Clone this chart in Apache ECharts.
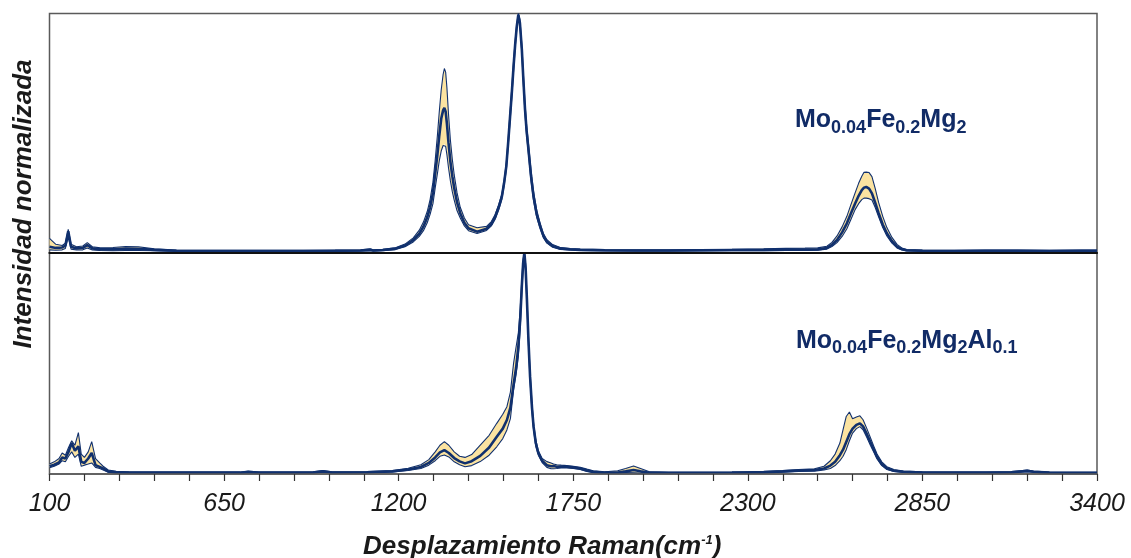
<!DOCTYPE html>
<html>
<head>
<meta charset="utf-8">
<script src="https://cdn.jsdelivr.net/npm/echarts@6/dist/echarts.min.js"></script>
<style>
  html, body { margin: 0; padding: 0; background: #fff; }
  #chart { width: 1131px; height: 558px; }
</style>
</head>
<body>
<div id="chart"></div>
<script>
// Raman shift axis (cm-1)
const shiftMin = 100;
const shiftMax = 3400;
const shiftStep = 550;

// Mo0.04Fe0.2Mg2 : Raman shift, min / mean / max of normalised intensity
const topShift = [
  100, 120, 140, 150, 159, 168, 185, 205, 219, 235,
  260, 300, 340, 380, 430, 500, 600, 700, 800, 900,
  1000, 1080, 1110, 1120, 1150, 1190, 1220, 1246, 1265, 1278,
  1290, 1299, 1308, 1315, 1322, 1328, 1334, 1340, 1344, 1348,
  1352, 1357, 1363, 1369, 1375, 1384, 1394, 1407, 1420, 1447,
  1477, 1492, 1504, 1515, 1525, 1532, 1539, 1545, 1551, 1557,
  1562, 1567, 1572, 1577, 1582, 1588, 1593, 1598, 1603, 1609,
  1617, 1625, 1635, 1646, 1656, 1667, 1685, 1709, 1740, 1772,
  1850, 1950, 2050, 2150, 2250, 2350, 2420, 2480, 2520, 2549,
  2565, 2581, 2597, 2612, 2625, 2638, 2649, 2659, 2666, 2673,
  2682, 2691, 2701, 2712, 2725, 2738, 2754, 2770, 2785, 2800,
  2850, 2950, 3050, 3150, 3250, 3350, 3400
];
const topMean = [
  .025, .02, .022, .03, .09, .025, .018, .02, .032, .018,
  .014, .014, .017, .016, .012, .008, .007, .007, .007, .007,
  .008, .009, .012, .009, .011, .017, .03, .053, .08, .109,
  .148, .19, .25, .33, .41, .49, .56, .595, .605, .59,
  .54, .46, .38, .32, .27, .21, .165, .125, .102, .088,
  .1, .12, .15, .19, .234, .29, .36, .46, .57, .68,
  .78, .87, .945, .995, .96, .85, .72, .6, .51, .43,
  .32, .234, .16, .109, .07, .046, .028, .018, .014, .012,
  .01, .009, .009, .01, .011, .012, .013, .013, .014, .02,
  .033, .053, .085, .123, .165, .206, .238, .262, .272, .275,
  .268, .248, .21, .165, .118, .081, .048, .025, .015, .01,
  .008, .007, .008, .008, .007, .008, .008
];
const topHigh = [
  .06, .035, .03, .04, .098, .035, .025, .028, .042, .025,
  .02, .022, .026, .025, .016, .011, .01, .01, .01, .01,
  .011, .012, .016, .012, .014, .021, .036, .062, .094, .128,
  .172, .222, .295, .385, .49, .59, .68, .745, .77, .755,
  .69, .58, .47, .39, .325, .25, .19, .145, .117, .104,
  .11, .13, .16, .2, .245, .3, .375, .475, .59, .7,
  .8, .885, .955, 1.0, .975, .87, .745, .625, .535, .455,
  .345, .255, .178, .122, .08, .054, .034, .022, .017, .015,
  .013, .012, .012, .013, .014, .016, .018, .019, .02, .027,
  .043, .07, .108, .152, .202, .25, .29, .32, .336, .337,
  .335, .318, .27, .21, .152, .105, .064, .035, .02, .013,
  .011, .01, .011, .011, .01, .011, .011
];
const topLow = [
  .012, .01, .012, .018, .065, .015, .011, .012, .02, .011,
  .009, .008, .009, .009, .008, .005, .004, .004, .004, .004,
  .005, .006, .008, .006, .008, .013, .025, .045, .068, .092,
  .125, .16, .205, .27, .33, .385, .425, .448, .454, .445,
  .41, .355, .3, .255, .22, .175, .145, .112, .092, .08,
  .093, .112, .14, .178, .222, .278, .345, .445, .55, .66,
  .76, .855, .935, .99, .95, .835, .7, .58, .49, .41,
  .3, .218, .148, .1, .063, .04, .023, .014, .011, .009,
  .007, .006, .006, .007, .008, .008, .009, .009, .01, .015,
  .026, .042, .068, .1, .14, .18, .205, .222, .228, .228,
  .226, .22, .19, .15, .105, .07, .04, .02, .011, .007,
  .005, .005, .005, .005, .005, .005, .005
];

// Mo0.04Fe0.2Mg2Al0.1 : Raman shift, min / mean / max of normalised intensity
const bottomShift = [
  100, 115, 130, 140, 150, 160, 170, 180, 191, 200,
  210, 222, 233, 245, 258, 269, 285, 310, 350, 400,
  500, 600, 700, 726, 760, 850, 930, 961, 990, 1100,
  1180, 1230, 1270, 1295, 1315, 1330, 1344, 1358, 1375, 1392,
  1409, 1430, 1457, 1485, 1509, 1528, 1541, 1552, 1562, 1570,
  1577, 1583, 1588, 1592, 1596, 1600, 1604, 1609, 1614, 1620,
  1625, 1632, 1640, 1652, 1667, 1680, 1688, 1698, 1712, 1730,
  1750, 1772, 1793, 1813, 1850, 1890, 1915, 1940, 1962, 1990,
  2050, 2150, 2250, 2350, 2410, 2460, 2510, 2540, 2560, 2575,
  2590, 2600, 2610, 2620, 2630, 2642, 2653, 2663, 2675, 2686,
  2697, 2707, 2722, 2738, 2760, 2790, 2850, 2950, 3050, 3130,
  3165, 3180, 3200, 3250, 3320, 3400
];
const bottomMean = [
  .035, .042, .052, .075, .07, .1, .14, .105, .125, .055,
  .05, .07, .095, .04, .032, .025, .012, .008, .007, .006,
  .006, .006, .006, .009, .006, .006, .007, .012, .007, .008,
  .012, .02, .032, .05, .075, .098, .108, .095, .072, .057,
  .048, .058, .082, .12, .168, .205, .244, .3, .405, .48,
  .575, .7, .85, .95, 1.0, .93, .79, .6, .44, .3,
  .214, .14, .095, .06, .04, .035, .036, .033, .034, .033,
  .03, .025, .016, .01, .006, .007, .012, .018, .012, .006,
  .005, .005, .006, .008, .012, .016, .018, .025, .038, .055,
  .085, .11, .145, .18, .205, .222, .229, .215, .18, .145,
  .11, .078, .045, .026, .015, .01, .007, .006, .006, .008,
  .012, .014, .01, .006, .005, .005
];
const bottomHigh = [
  .045, .055, .07, .095, .085, .12, .15, .13, .187, .09,
  .075, .1, .146, .07, .05, .035, .018, .012, .01, .009,
  .009, .009, .009, .013, .009, .009, .01, .016, .01, .011,
  .016, .026, .042, .065, .1, .13, .146, .13, .1, .08,
  .075, .088, .131, .175, .229, .27, .304, .37, .5, .575,
  .637, .75, .88, .97, 1.0, .95, .81, .62, .46, .32,
  .23, .155, .105, .07, .056, .05, .045, .042, .04, .038,
  .035, .03, .022, .015, .01, .015, .025, .036, .025, .01,
  .008, .008, .009, .012, .016, .02, .024, .035, .06, .09,
  .14, .2, .26, .28, .25, .258, .263, .245, .205, .165,
  .125, .09, .055, .033, .02, .013, .01, .009, .009, .011,
  .016, .018, .013, .009, .008, .008
];
const bottomLow = [
  .028, .035, .045, .06, .055, .08, .1, .075, .09, .035,
  .04, .045, .05, .03, .025, .018, .008, .005, .004, .004,
  .004, .004, .004, .006, .004, .004, .005, .009, .005, .006,
  .009, .016, .025, .04, .06, .08, .086, .077, .055, .042,
  .033, .038, .056, .085, .123, .16, .199, .25, .38, .45,
  .53, .66, .82, .93, .99, .91, .77, .58, .42, .28,
  .2, .125, .085, .052, .03, .024, .024, .025, .027, .027,
  .025, .02, .012, .006, .004, .004, .006, .005, .004, .004,
  .003, .003, .004, .005, .008, .011, .013, .018, .025, .038,
  .06, .08, .11, .15, .185, .205, .214, .2, .165, .13,
  .098, .068, .038, .02, .011, .007, .005, .004, .004, .006,
  .009, .01, .008, .004, .003, .003
];

const sampleNames = [
  '{b|Mo}{s|0.04}{b|Fe}{s|0.2}{b|Mg}{s|2}',
  '{b|Mo}{s|0.04}{b|Fe}{s|0.2}{b|Mg}{s|2}{b|Al}{s|0.1}'
];

const NAVY = '#10306e';
const BAND = '#fbe3a1';
const LABEL_BLUE = '#112b66';

function pairs(xs, ys) {
  return xs.map((x, i) => [x, ys[i]]);
}

// Shaded min-max envelope (one polygon through the axis scales) plus min, max and mean traces
function panelSeries(idx, xs, lo, mean, hi) {
  const common = {
    type: 'line', xAxisIndex: idx, yAxisIndex: idx, z: 3,
    showSymbol: false, symbol: 'none', smooth: false, silent: true
  };
  return [
    {
      type: 'custom', xAxisIndex: idx, yAxisIndex: idx, z: 2, silent: true, clip: true,
      data: [[xs[0], lo[0]]],
      renderItem: function (params, api) {
        const upper = xs.map((x, i) => api.coord([x, hi[i]]));
        const lower = xs.map((x, i) => api.coord([x, lo[i]])).reverse();
        return {
          type: 'polygon',
          shape: { points: upper.concat(lower) },
          style: { fill: BAND, stroke: null }
        };
      }
    },
    Object.assign({}, common, {
      data: pairs(xs, lo), lineStyle: { color: NAVY, width: 1.1 }
    }),
    Object.assign({}, common, {
      data: pairs(xs, hi), lineStyle: { color: NAVY, width: 1.1 }
    }),
    Object.assign({}, common, {
      data: pairs(xs, mean), lineStyle: { color: NAVY, width: 2.6 }
    })
  ];
}

const richLabel = {
  b: { fontFamily: 'Liberation Sans', fontWeight: 'bold', fontSize: 25, lineHeight: 25,
       padding: [0, 0, 4, 0], verticalAlign: 'bottom', fill: LABEL_BLUE, color: LABEL_BLUE },
  s: { fontFamily: 'Liberation Sans', fontWeight: 'bold', fontSize: 18, lineHeight: 18,
       verticalAlign: 'bottom', fill: LABEL_BLUE, color: LABEL_BLUE }
};

const chart = echarts.init(document.getElementById('chart'), null, { renderer: 'canvas' });

chart.setOption({
  animation: false,
  backgroundColor: '#ffffff',
  grid: [
    { left: 49.5, top: 13.5, width: 1047.5, height: 239.2, outerBoundsMode: 'none',
      containLabel: false, show: true, borderColor: '#5a5a5a', borderWidth: 1.5 },
    { left: 49.5, top: 252.7, width: 1047.5, height: 221.3, outerBoundsMode: 'none',
      containLabel: false, show: true, borderColor: '#5a5a5a', borderWidth: 1.5 }
  ],
  xAxis: [
    {
      gridIndex: 0, type: 'value', min: shiftMin, max: shiftMax, interval: shiftStep,
      z: 5,
      axisLine: { show: true, lineStyle: { color: '#111111', width: 2.2 } },
      axisTick: { show: false }, axisLabel: { show: false }, splitLine: { show: false }
    },
    {
      gridIndex: 1, type: 'value', min: shiftMin, max: shiftMax, interval: shiftStep,
      z: 5,
      axisLine: { show: true, lineStyle: { color: '#5a5a5a', width: 1.5 } },
      axisTick: { show: true, length: 7, lineStyle: { color: '#333333', width: 1.2 } },
      minorTick: { show: true, splitNumber: 5, length: 7, lineStyle: { color: '#333333', width: 1.2 } },
      splitLine: { show: false },
      axisLabel: {
        margin: 18, fontFamily: 'Liberation Sans', fontStyle: 'italic',
        fontSize: 25, color: '#1a1a1a',
        formatter: function (v) { return String(v); }
      },
      name: '{a|Desplazamiento Raman(cm}{u|-1}{a|)}',
      nameLocation: 'middle',
      nameGap: 58,
      nameTextStyle: {
        padding: [0, 62, 0, 0],
        rich: {
          a: { fontFamily: 'Liberation Sans', fontWeight: 'bold', fontStyle: 'italic',
               fontSize: 26, lineHeight: 28, verticalAlign: 'bottom', color: '#1a1a1a' },
          u: { fontFamily: 'Liberation Sans', fontWeight: 'bold', fontStyle: 'italic',
               fontSize: 13, lineHeight: 13, padding: [0, 0, 13, 0],
               verticalAlign: 'bottom', color: '#1a1a1a' }
        }
      }
    }
  ],
  yAxis: [
    { gridIndex: 0, type: 'value', min: 0, max: 1, show: false },
    { gridIndex: 1, type: 'value', min: 0, max: 1, show: false }
  ],
  graphic: [
    {
      type: 'text', x: 24, y: 204, rotation: Math.PI / 2, z: 10,
      style: {
        text: 'Intensidad normalizada',
        fontFamily: 'Liberation Sans', fontWeight: 'bold', fontStyle: 'italic', fontSize: 26,
        fill: '#1a1a1a', align: 'center', verticalAlign: 'middle'
      }
    },
    {
      type: 'text', x: 795, y: 136.6, z: 10,
      style: { text: sampleNames[0], rich: richLabel, fill: LABEL_BLUE,
               align: 'left', verticalAlign: 'bottom' }
    },
    {
      type: 'text', x: 796, y: 357.3, z: 10,
      style: { text: sampleNames[1], rich: richLabel, fill: LABEL_BLUE,
               align: 'left', verticalAlign: 'bottom' }
    }
  ],
  series: [].concat(
    panelSeries(0, topShift, topLow, topMean, topHigh),
    panelSeries(1, bottomShift, bottomLow, bottomMean, bottomHigh)
  )
});
</script>
</body>
</html>
